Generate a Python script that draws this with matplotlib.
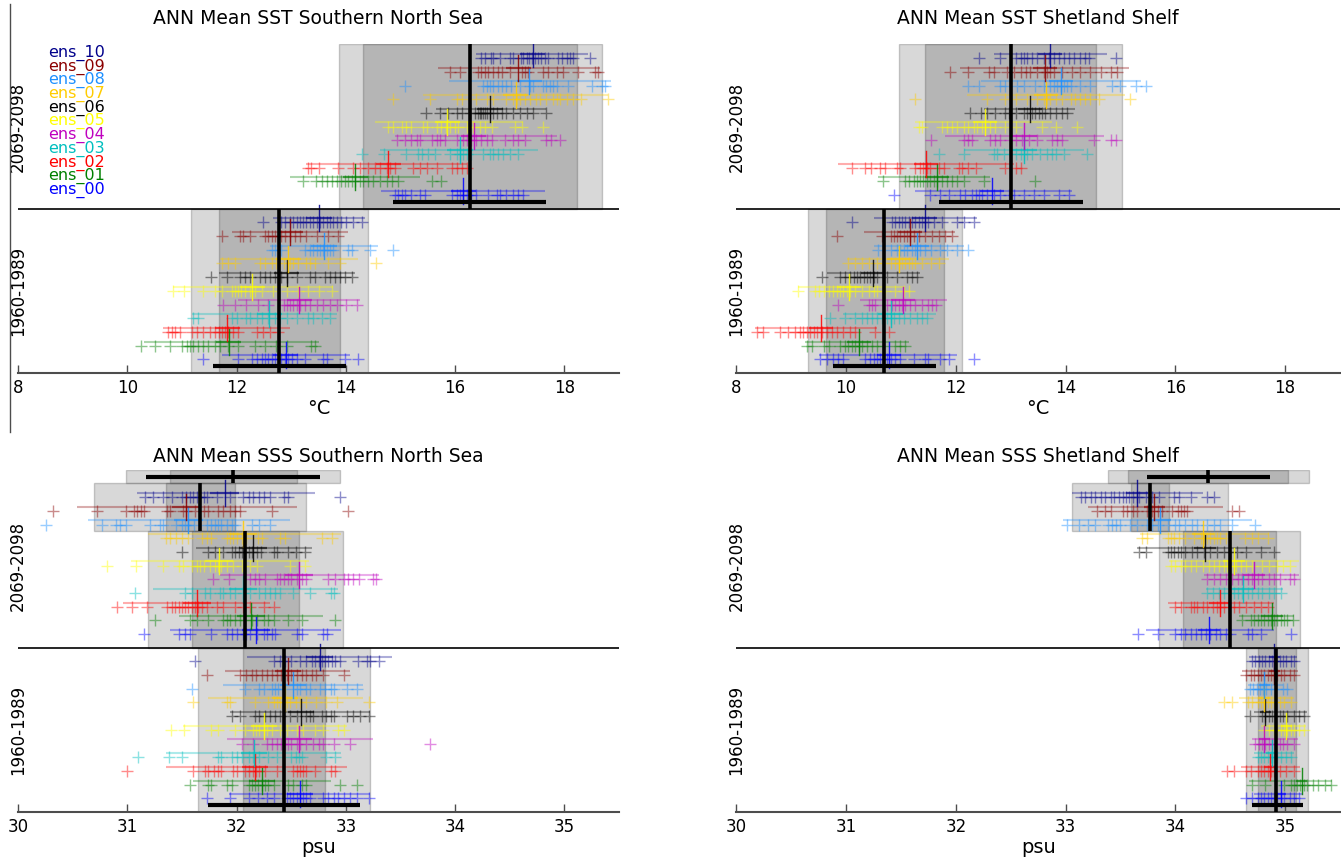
import matplotlib
matplotlib.use("Agg")
import matplotlib.pyplot as plt
from matplotlib.patches import Rectangle
from matplotlib.lines import Line2D
import matplotlib.transforms as mtransforms

# ---------------------------------------------------------------- data
MEMBERS = ["ens_00", "ens_01", "ens_02", "ens_03", "ens_04", "ens_05",
           "ens_06", "ens_07", "ens_08", "ens_09", "ens_10"]
MEMBER_COLORS = ["#0000ff", "#008000", "#ff0000", "#00bfbf", "#bf00bf", "#ffff00",
                 "#000000", "#ffcc00", "#1e90ff", "#8b0000", "#00008b"]
PERIODS = ["1960-1989", "2069-2098"]
TITLES = ["ANN Mean SST Southern North Sea", "ANN Mean SST Shetland Shelf",
          "ANN Mean SSS Southern North Sea", "ANN Mean SSS Shetland Shelf"]
SST_TICKS = [8, 10, 12, 14, 16, 18]
SSS_TICKS = [30, 31, 32, 33, 34, 35]

# ---- SST Southern North Sea, 1960-1989 (annual values per member)
SST_SNS_HIST = [
    [11.39, 12.03, 12.28, 12.37, 12.46, 12.52, 12.58, 12.64, 12.70, 12.76, 12.82, 12.89, 12.95, 13.01, 13.10, 13.25, 13.59, 13.65, 13.98, 14.23],
    [10.25, 10.51, 10.78, 11.00, 11.09, 11.15, 11.21, 11.30, 11.39, 11.48, 11.61, 11.70, 11.85, 12.03, 12.34, 12.52, 12.73, 12.92, 13.37, 13.43],
    [10.75, 10.81, 10.87, 10.96, 11.18, 11.27, 11.39, 11.51, 11.61, 11.67, 11.73, 11.79, 11.85, 11.94, 12.03, 12.37, 12.49, 12.61, 12.76],
    [11.21, 11.30, 11.91, 12.00, 12.18, 12.25, 12.37, 12.46, 12.58, 12.70, 12.79, 12.92, 13.10, 13.31, 13.40, 13.56, 13.71],
    [11.76, 11.97, 12.18, 12.40, 12.58, 12.86, 12.92, 12.98, 13.04, 13.10, 13.16, 13.25, 13.34, 13.47, 13.59, 13.71, 13.83, 14.01, 14.20],
    [10.84, 11.03, 11.39, 11.61, 11.73, 11.91, 11.97, 12.03, 12.09, 12.15, 12.25, 12.34, 12.46, 12.67, 12.92, 13.13, 13.31, 13.50, 13.74],
    [11.54, 11.82, 12.06, 12.15, 12.25, 12.43, 12.52, 12.61, 12.70, 12.76, 12.82, 12.92, 13.10, 13.34, 13.43, 13.62, 13.71, 13.80, 13.89, 13.98, 14.11],
    [11.73, 11.85, 11.97, 12.43, 12.52, 12.64, 12.73, 12.86, 12.98, 13.04, 13.13, 13.28, 13.34, 13.43, 13.68, 13.89, 14.56],
    [12.64, 12.70, 12.82, 13.25, 13.34, 13.40, 13.47, 13.53, 13.59, 13.65, 13.71, 13.77, 14.04, 14.11, 14.44, 14.87],
    [11.73, 12.06, 12.12, 12.25, 12.52, 12.58, 12.64, 12.70, 12.76, 12.82, 12.89, 12.98, 13.07, 13.16, 13.28, 13.47, 13.68, 13.86],
    [12.49, 12.82, 12.89, 12.98, 13.04, 13.10, 13.16, 13.22, 13.28, 13.34, 13.40, 13.47, 13.53, 13.59, 13.65, 13.71, 13.77, 13.83, 13.92, 14.01, 14.14, 14.29],
]
SST_SNS_HIST_MEAN = [12.90, 11.86, 11.83, 12.60, 13.15, 12.29, 12.92, 12.95, 13.60, 12.98, 13.51]
SST_SNS_HIST_RANGE = [(11.73, 14.07), (10.30, 13.50), (10.66, 12.98), (11.18, 13.83), (12.03, 14.26), (10.84, 13.77),
                      (11.67, 14.17), (11.70, 14.23), (12.61, 14.59), (11.91, 14.04), (12.67, 14.35)]

# ---- SST Southern North Sea, 2069-2098
SST_SNS_FUT = [
    [14.90, 14.96, 15.02, 15.08, 15.20, 15.36, 15.45, 15.94, 16.03, 16.09, 16.15, 16.21, 16.30, 16.39, 16.61, 16.76, 16.82, 16.94, 17.06, 17.16, 17.25],
    [13.22, 13.46, 13.56, 13.65, 13.74, 13.83, 13.92, 13.98, 14.04, 14.11, 14.17, 14.26, 14.32, 14.41, 14.50, 14.62, 14.75, 14.84, 14.96, 15.57, 15.75],
    [13.31, 13.37, 13.50, 13.86, 14.14, 14.26, 14.41, 14.53, 14.62, 14.75, 14.81, 14.90, 15.23, 15.36, 15.48, 15.66, 15.94, 16.03, 16.12, 16.21],
    [14.29, 14.69, 15.11, 15.33, 15.39, 15.51, 15.63, 15.90, 16.03, 16.09, 16.15, 16.21, 16.30, 16.51, 16.64, 16.70, 16.79, 16.88, 17.00, 17.16],
    [14.93, 15.08, 15.20, 15.30, 15.36, 15.57, 15.66, 15.72, 15.81, 16.03, 16.15, 16.21, 16.30, 16.39, 16.48, 16.58, 16.67, 16.91, 17.06, 17.16, 17.28, 17.67, 17.76, 17.92],
    [14.78, 14.87, 15.02, 15.11, 15.20, 15.42, 15.48, 15.66, 15.75, 15.84, 15.90, 16.00, 16.06, 16.21, 16.33, 16.45, 16.55, 16.67, 17.09, 17.22, 17.61],
    [15.47, 15.73, 15.87, 16.03, 16.12, 16.27, 16.36, 16.42, 16.45, 16.48, 16.51, 16.55, 16.58, 16.64, 16.70, 16.76, 16.85, 16.94, 17.06, 17.19, 17.31, 17.43, 17.67],
    [14.87, 15.54, 16.03, 16.12, 16.39, 16.58, 16.70, 16.94, 17.06, 17.13, 17.19, 17.28, 17.37, 17.49, 17.55, 17.67, 17.80, 17.86, 17.92, 18.04, 18.16, 18.31, 18.80],
    [15.08, 16.51, 16.58, 16.64, 16.70, 16.79, 16.85, 16.94, 17.03, 17.19, 17.37, 17.43, 17.61, 17.67, 17.73, 17.79, 17.86, 18.07, 18.50, 18.68, 18.74],
    [15.90, 16.09, 16.42, 16.48, 16.55, 16.61, 16.70, 16.79, 16.85, 17.00, 17.22, 17.28, 17.34, 17.61, 17.70, 17.86, 17.98, 18.25, 18.56, 18.62],
    [16.48, 16.55, 16.65, 16.70, 16.82, 17.00, 17.06, 17.20, 17.25, 17.31, 17.36, 17.40, 17.46, 17.52, 17.58, 17.64, 17.70, 17.89, 17.95, 18.04, 18.10, 18.16, 18.47],
]
SST_SNS_FUT_MEAN = [16.15, 14.17, 14.78, 16.09, 16.34, 15.86, 16.64, 17.11, 17.36, 17.16, 17.42]
SST_SNS_FUT_RANGE = [(14.65, 17.64), (12.98, 15.36), (13.27, 16.21), (14.62, 17.52), (14.90, 17.86), (14.53, 17.25),
                     (15.65, 17.67), (15.42, 18.80), (15.89, 18.86), (15.69, 18.65), (16.39, 18.44)]

# ---- SST Shetland Shelf, 1960-1989
SST_SS_HIST = [
    [9.53, 9.65, 9.77, 9.86, 9.95, 10.35, 10.44, 10.50, 10.56, 10.62, 10.68, 10.74, 10.81, 10.90, 10.99, 11.23, 11.44, 11.50, 11.72, 11.87, 12.33],
    [9.28, 9.38, 9.59, 9.68, 9.89, 9.98, 10.04, 10.11, 10.17, 10.23, 10.29, 10.38, 10.47, 10.56, 10.68, 10.90, 10.99, 11.08],
    [8.37, 8.49, 8.80, 8.95, 9.07, 9.16, 9.22, 9.28, 9.34, 9.41, 9.47, 9.56, 9.65, 9.74, 9.83, 9.95, 10.07, 10.17, 10.53, 10.78],
    [9.71, 9.98, 10.17, 10.29, 10.38, 10.47, 10.56, 10.65, 10.74, 10.81, 10.87, 10.96, 11.05, 11.17, 11.29, 11.38, 11.47],
    [9.86, 10.41, 10.47, 10.53, 10.74, 10.84, 10.90, 10.96, 11.02, 11.08, 11.17, 11.26, 11.38, 11.50, 11.57, 11.63],
    [9.13, 9.44, 9.50, 9.59, 9.68, 9.77, 9.83, 9.89, 9.95, 10.01, 10.07, 10.17, 10.29, 10.41, 10.50, 10.56, 10.71, 10.90, 11.05, 11.14],
    [9.56, 9.89, 9.98, 10.07, 10.14, 10.20, 10.26, 10.32, 10.38, 10.44, 10.50, 10.56, 10.74, 10.93, 11.11, 11.20, 11.29],
    [10.04, 10.17, 10.29, 10.41, 10.56, 10.68, 10.81, 10.90, 10.96, 11.02, 11.08, 11.14, 11.20, 11.26, 11.38, 11.54, 11.69],
    [10.59, 10.81, 10.93, 10.99, 11.05, 11.11, 11.20, 11.26, 11.35, 11.44, 11.54, 11.72, 11.84, 12.02, 12.23],
    [9.83, 10.65, 10.81, 10.87, 10.93, 10.99, 11.05, 11.11, 11.17, 11.23, 11.32, 11.44, 11.56, 11.69, 11.81, 11.93],
    [10.10, 10.84, 10.90, 10.96, 11.02, 11.08, 11.14, 11.20, 11.26, 11.32, 11.38, 11.44, 11.50, 11.60, 11.75, 12.02, 12.14, 12.33],
]
SST_SS_HIST_MEAN = [10.79, 10.23, 9.54, 10.81, 11.04, 10.06, 10.49, 10.96, 11.29, 11.17, 11.43]
SST_SS_HIST_RANGE = [(9.50, 12.02), (9.25, 11.14), (8.34, 10.56), (9.95, 11.63), (10.26, 11.84), (9.13, 11.05),
                     (9.65, 11.35), (10.01, 11.87), (10.50, 12.14), (10.32, 11.99), (10.50, 12.39)]

# ---- SST Shetland Shelf, 2069-2098
SST_SS_FUT = [
    [10.87, 11.53, 11.72, 11.87, 12.08, 12.17, 12.29, 12.36, 12.42, 12.48, 12.57, 12.69, 12.81, 12.96, 13.06, 13.24, 13.42, 13.60, 13.88, 14.06],
    [10.68, 11.08, 11.14, 11.23, 11.29, 11.35, 11.41, 11.47, 11.53, 11.60, 11.66, 11.75, 11.84, 11.93, 12.02, 12.14, 12.51, 13.45],
    [10.10, 10.35, 10.45, 10.62, 10.71, 10.93, 10.99, 11.26, 11.35, 11.41, 11.47, 11.53, 11.69, 11.78, 12.05, 12.11, 12.23, 12.36, 12.90, 13.09, 13.18],
    [11.69, 12.14, 12.69, 12.75, 12.87, 12.99, 13.09, 13.18, 13.24, 13.30, 13.39, 13.54, 13.66, 13.76, 13.82, 13.97, 14.39],
    [11.55, 12.14, 12.23, 12.29, 12.63, 12.72, 12.81, 12.99, 13.09, 13.21, 13.33, 13.48, 13.76, 13.85, 13.94, 14.51, 14.82, 14.91],
    [11.32, 11.38, 11.75, 11.84, 11.93, 12.02, 12.14, 12.23, 12.33, 12.39, 12.48, 12.54, 12.63, 12.72, 12.90, 13.09, 13.57, 13.82, 14.21],
    [12.26, 12.45, 12.57, 12.72, 12.90, 12.96, 13.09, 13.24, 13.30, 13.39, 13.45, 13.51, 13.57, 13.63, 13.72, 13.82, 13.94, 14.03],
    [11.26, 12.57, 12.90, 13.09, 13.30, 13.48, 13.60, 13.66, 13.72, 13.82, 13.94, 14.09, 14.18, 14.27, 14.36, 14.45, 14.61, 15.18],
    [12.22, 12.42, 12.81, 12.90, 13.12, 13.24, 13.45, 13.60, 13.72, 13.79, 13.85, 13.91, 13.97, 14.03, 14.09, 14.27, 14.45, 14.85, 15.00, 15.28, 15.46],
    [11.90, 12.23, 12.60, 12.69, 12.93, 13.06, 13.18, 13.27, 13.36, 13.48, 13.60, 13.66, 13.72, 13.79, 13.94, 14.12, 14.27, 14.45, 14.64, 14.82, 14.94],
    [12.42, 12.81, 13.09, 13.18, 13.24, 13.30, 13.39, 13.48, 13.60, 13.69, 13.79, 13.88, 13.97, 14.06, 14.15, 14.27, 14.36, 14.42, 14.91],
]
SST_SS_FUT_MEAN = [12.66, 11.66, 11.46, 13.25, 13.25, 12.53, 13.35, 13.64, 13.91, 13.62, 13.71]
SST_SS_FUT_RANGE = [(11.26, 14.12), (10.59, 12.63), (9.85, 13.06), (12.14, 14.33), (11.81, 14.70), (11.26, 13.76),
                    (12.51, 14.18), (12.20, 15.09), (12.45, 15.37), (12.08, 15.15), (12.69, 14.76)]

# ---- SSS Southern North Sea, 1960-1989
SSS_SNS_HIST = [
    [31.73, 31.94, 32.11, 32.20, 32.28, 32.34, 32.46, 32.49, 32.52, 32.55, 32.58, 32.61, 32.64, 32.67, 32.79, 32.84, 32.89, 32.93, 32.98, 33.04, 33.10, 33.21],
    [31.57, 31.74, 31.77, 31.91, 31.96, 32.11, 32.14, 32.17, 32.20, 32.23, 32.26, 32.29, 32.34, 32.47, 32.52, 32.60, 32.64, 32.95, 33.10],
    [31.00, 31.60, 31.71, 31.74, 31.79, 31.83, 31.86, 31.97, 32.00, 32.08, 32.11, 32.15, 32.18, 32.21, 32.26, 32.37, 32.52, 32.55, 32.58, 32.61, 32.64, 32.72, 32.86, 32.90],
    [31.10, 31.38, 31.50, 31.83, 31.86, 31.96, 32.00, 32.05, 32.11, 32.15, 32.21, 32.29, 32.37, 32.50, 32.54, 32.57, 32.60, 32.82, 32.90],
    [32.05, 32.15, 32.28, 32.32, 32.37, 32.41, 32.44, 32.47, 32.50, 32.55, 32.58, 32.64, 32.70, 32.75, 32.79, 32.89, 33.04, 33.77],
    [31.40, 31.52, 31.77, 31.83, 31.99, 32.08, 32.15, 32.18, 32.21, 32.25, 32.28, 32.32, 32.40, 32.46, 32.55, 32.61, 32.72, 32.79, 32.93, 32.98],
    [31.96, 32.03, 32.17, 32.21, 32.26, 32.31, 32.35, 32.40, 32.49, 32.55, 32.64, 32.67, 32.70, 32.78, 32.82, 32.86, 32.89, 33.01, 33.07, 33.13, 33.21],
    [31.60, 31.91, 31.94, 32.17, 32.29, 32.34, 32.37, 32.40, 32.43, 32.46, 32.49, 32.54, 32.58, 32.64, 32.73, 32.82, 32.92, 33.21],
    [31.59, 32.08, 32.21, 32.25, 32.32, 32.35, 32.38, 32.44, 32.55, 32.58, 32.64, 32.67, 32.76, 32.81, 32.86, 32.89, 33.01, 33.10],
    [31.73, 32.03, 32.09, 32.14, 32.18, 32.23, 32.28, 32.32, 32.37, 32.41, 32.46, 32.50, 32.55, 32.60, 32.64, 32.69, 32.73, 32.79, 32.98],
    [31.62, 32.34, 32.40, 32.44, 32.50, 32.58, 32.64, 32.69, 32.72, 32.75, 32.78, 32.81, 32.84, 32.87, 32.90, 32.95, 33.11, 33.19, 33.22, 33.30],
]
SSS_SNS_HIST_MEAN = [32.58, 32.23, 32.17, 32.16, 32.57, 32.25, 32.59, 32.44, 32.52, 32.47, 32.76]
SSS_SNS_HIST_RANGE = [(31.93, 33.22), (31.60, 32.86), (31.35, 33.01), (31.35, 32.96), (31.91, 33.25), (31.51, 33.01),
                      (31.94, 33.22), (31.74, 33.16), (31.88, 33.16), (31.89, 33.04), (32.10, 33.42)]

# ---- SSS Southern North Sea, 2069-2098
SSS_SNS_FUT = [
    [31.15, 31.47, 31.53, 31.57, 31.77, 31.91, 31.96, 32.00, 32.06, 32.09, 32.12, 32.19, 32.25, 32.28, 32.32, 32.35, 32.55, 32.60, 32.79, 32.83],
    [31.25, 31.57, 31.64, 31.74, 31.88, 31.91, 31.94, 31.99, 32.03, 32.08, 32.14, 32.19, 32.25, 32.29, 32.34, 32.47, 32.60, 32.90],
    [30.91, 31.04, 31.18, 31.36, 31.41, 31.44, 31.47, 31.50, 31.53, 31.56, 31.59, 31.62, 31.65, 31.68, 31.73, 31.82, 31.88, 31.99, 32.06, 32.12, 32.25, 32.34],
    [31.07, 31.53, 31.59, 31.71, 31.76, 31.85, 31.88, 31.94, 31.99, 32.06, 32.12, 32.21, 32.26, 32.31, 32.35, 32.40, 32.52, 32.67, 32.86, 32.89],
    [31.78, 31.93, 32.12, 32.17, 32.21, 32.26, 32.37, 32.40, 32.43, 32.47, 32.50, 32.55, 32.60, 32.64, 32.84, 32.90, 32.98, 33.02, 33.07, 33.12, 33.25, 33.28],
    [30.81, 31.08, 31.33, 31.47, 31.51, 31.59, 31.64, 31.67, 31.70, 31.76, 31.80, 31.83, 31.86, 31.91, 31.97, 32.05, 32.12, 32.19, 32.49, 32.63],
    [31.50, 31.74, 31.80, 31.88, 31.96, 31.99, 32.02, 32.05, 32.08, 32.11, 32.14, 32.19, 32.22, 32.34, 32.37, 32.47, 32.54, 32.63],
    [31.35, 31.39, 31.45, 31.50, 31.56, 31.68, 31.73, 31.77, 31.91, 31.94, 31.97, 32.00, 32.05, 32.09, 32.20, 32.23, 32.40, 32.44, 32.78, 32.87],
    [30.26, 30.77, 30.90, 30.93, 30.99, 31.21, 31.30, 31.33, 31.45, 31.50, 31.53, 31.56, 31.61, 31.73, 31.77, 31.80, 31.83, 31.86, 31.91, 31.96, 31.99, 32.14, 32.21, 32.31],
    [30.32, 30.72, 30.99, 31.06, 31.09, 31.13, 31.15, 31.36, 31.39, 31.51, 31.54, 31.62, 31.70, 31.74, 31.83, 31.88, 31.94, 31.99, 32.03, 32.32, 33.02],
    [31.16, 31.24, 31.33, 31.41, 31.50, 31.54, 31.57, 31.60, 31.64, 31.67, 31.70, 31.73, 31.82, 31.94, 32.06, 32.11, 32.15, 32.21, 32.25, 32.31, 32.43, 32.47, 32.95],
]
SSS_SNS_FUT_MEAN = [32.18, 32.13, 31.64, 32.06, 32.57, 31.84, 32.15, 32.06, 31.56, 31.54, 31.89]
SSS_SNS_FUT_RANGE = [(31.39, 32.96), (31.47, 32.79), (30.96, 32.31), (31.24, 32.93), (31.85, 33.30), (31.03, 32.66),
                     (31.63, 32.69), (31.19, 32.96), (30.64, 32.49), (30.54, 32.55), (31.09, 32.72)]

# ---- SSS Shetland Shelf, 1960-1989
SSS_SS_HIST = [
    [34.64, 34.70, 34.75, 34.78, 34.81, 34.84, 34.87, 34.90, 34.93, 34.96, 34.99, 35.04, 35.08, 35.13],
    [34.70, 34.82, 34.99, 35.05, 35.08, 35.11, 35.14, 35.17, 35.20, 35.25, 35.30, 35.36, 35.42],
    [34.47, 34.53, 34.64, 34.69, 34.75, 34.78, 34.81, 34.84, 34.87, 34.90, 34.95, 35.01, 35.08],
    [34.75, 34.78, 34.81, 34.84, 34.87, 34.90, 34.93, 34.96, 35.01, 35.05],
    [34.73, 34.76, 34.79, 34.82, 34.85, 34.88, 34.91, 34.95, 34.98, 35.02, 35.08],
    [34.81, 34.85, 34.90, 34.93, 34.96, 34.99, 35.02, 35.05, 35.08, 35.13, 35.17],
    [34.68, 34.79, 34.82, 34.85, 34.88, 34.91, 34.95, 34.98, 35.02, 35.08, 35.13, 35.17],
    [34.44, 34.52, 34.66, 34.70, 34.75, 34.78, 34.81, 34.84, 34.87, 34.90, 34.95, 34.99, 35.05],
    [34.68, 34.71, 34.74, 34.77, 34.80, 34.83, 34.87, 34.92, 34.98, 35.02],
    [34.64, 34.69, 34.72, 34.75, 34.78, 34.81, 34.84, 34.87, 34.90, 34.93, 34.96, 34.99, 35.04, 35.08],
    [34.70, 34.73, 34.76, 34.79, 34.82, 34.85, 34.88, 34.91, 34.95, 34.98, 35.01, 35.05, 35.08],
]
SSS_SS_HIST_MEAN = [34.96, 35.15, 34.86, 34.88, 34.81, 35.01, 34.82, 34.81, 34.81, 34.90, 34.90]
SSS_SS_HIST_RANGE = [(34.72, 35.16), (34.67, 35.43), (34.60, 35.14), (34.72, 35.08), (34.70, 35.12), (34.78, 35.19),
                     (34.72, 35.20), (34.58, 35.08), (34.66, 34.98), (34.61, 35.12), (34.67, 35.11)]

# ---- SSS Shetland Shelf, 2069-2098
SSS_SS_FUT = [
    [33.66, 33.84, 34.00, 34.05, 34.09, 34.14, 34.19, 34.23, 34.28, 34.32, 34.37, 34.41, 34.46, 34.50, 34.66, 34.70, 34.78, 35.05],
    [34.61, 34.69, 34.72, 34.75, 34.78, 34.81, 34.84, 34.87, 34.90, 34.93, 34.96, 34.99, 35.02, 35.07],
    [34.00, 34.05, 34.14, 34.17, 34.20, 34.25, 34.29, 34.34, 34.38, 34.41, 34.44, 34.49, 34.53, 34.58, 34.64, 34.72, 34.78, 34.84],
    [34.29, 34.34, 34.40, 34.44, 34.49, 34.53, 34.57, 34.61, 34.66, 34.70, 34.75, 34.79, 34.85, 34.90, 34.96],
    [34.29, 34.35, 34.41, 34.46, 34.52, 34.57, 34.61, 34.66, 34.70, 34.75, 34.79, 34.85, 34.90, 34.95, 35.04, 35.08],
    [33.96, 34.00, 34.05, 34.09, 34.14, 34.19, 34.25, 34.31, 34.35, 34.40, 34.44, 34.47, 34.50, 34.55, 34.60, 34.64, 34.70, 34.79, 34.85, 34.93, 34.98, 35.04],
    [33.67, 33.73, 33.93, 33.96, 33.99, 34.02, 34.05, 34.09, 34.15, 34.20, 34.26, 34.32, 34.38, 34.44, 34.50, 34.56, 34.64, 34.78, 34.90],
    [33.70, 33.74, 33.93, 33.96, 33.99, 34.03, 34.09, 34.17, 34.23, 34.26, 34.29, 34.32, 34.35, 34.38, 34.41, 34.46, 34.63, 34.70, 34.75, 34.84],
    [33.01, 33.12, 33.20, 33.27, 33.39, 33.42, 33.46, 33.50, 33.59, 33.65, 33.74, 33.79, 33.84, 33.93, 34.00, 34.03, 34.09, 34.15, 34.20, 34.29, 34.35, 34.41, 34.52, 34.73],
    [33.29, 33.36, 33.41, 33.52, 33.56, 33.61, 33.65, 33.74, 33.79, 33.84, 33.88, 33.97, 34.02, 34.05, 34.08, 34.11, 34.52, 34.58],
    [33.14, 33.18, 33.23, 33.27, 33.32, 33.36, 33.41, 33.44, 33.49, 33.52, 33.55, 33.58, 33.61, 33.65, 33.67, 33.73, 33.79, 33.85, 33.99, 34.03, 34.14, 34.29, 34.35],
]
SSS_SS_FUT_MEAN = [34.31, 34.88, 34.41, 34.62, 34.72, 34.53, 34.27, 34.25, 33.86, 33.81, 33.65]
SSS_SS_FUT_RANGE = [(33.73, 34.90), (34.58, 35.08), (33.93, 34.90), (34.28, 34.98), (34.26, 35.13), (33.94, 35.13),
                    (33.65, 34.87), (33.68, 34.85), (32.98, 34.70), (33.20, 34.43), (33.06, 34.25)]

# ---- multi-member summaries (outer range, inner range, mean, bar)
SST_SNS_HIST_SUM = dict(light=(11.16, 14.41), dark=(11.68, 13.89), mean=12.78, bar=(11.57, 14.00))
SST_SNS_FUT_SUM = dict(light=(13.88, 18.68), dark=(14.32, 18.24), mean=16.28, bar=(14.87, 17.67))
SST_SS_HIST_SUM = dict(light=(9.30, 12.12), dark=(9.63, 11.78), mean=10.70, bar=(9.77, 11.64))
SST_SS_FUT_SUM = dict(light=(10.97, 15.03), dark=(11.44, 14.56), mean=13.00, bar=(11.69, 14.31))
SSS_SNS_HIST_SUM = dict(light=(31.65, 33.22), dark=(32.06, 32.81), mean=32.43, bar=(31.74, 33.13))
SSS_SNS_FUT_LOW = dict(light=(31.19, 32.97), dark=(31.59, 32.57), mean=32.08)    # ens_00..ens_07
SSS_SNS_FUT_HIGH = dict(light=(30.70, 32.64), dark=(31.35, 31.99), mean=31.67)   # ens_08..ens_10
SSS_SNS_FUT_ALL = dict(light=(30.99, 32.95), dark=(31.39, 32.55), mean=31.97, bar=(31.17, 32.76))
SSS_SS_HIST_SUM = dict(light=(34.64, 35.21), dark=(34.75, 35.10), mean=34.92, bar=(34.70, 35.16))
SSS_SS_FUT_LOW = dict(light=(33.85, 35.14), dark=(34.07, 34.92), mean=34.50)
SSS_SS_FUT_HIGH = dict(light=(33.06, 34.48), dark=(33.60, 33.94), mean=33.77)
SSS_SS_FUT_ALL = dict(light=(33.39, 35.22), dark=(33.57, 35.03), mean=34.30, bar=(33.74, 34.86))

# half width of the short thick segment around each member mean
CI_HALF = {"SST_SNS": (0.23, 0.23), "SST_SS": (0.22, 0.22),
           "SSS_SNS": (0.12, 0.13), "SSS_SS": (0.05, 0.10)}

# ---------------------------------------------------------------- figure
W, H = 1341, 858
fig = plt.figure(figsize=(W / 100, H / 100), dpi=100)
ROW = 13.69  # px per data unit (vertical)


def px_axes(left, right, top, bottom):
    return fig.add_axes([left / W, 1 - bottom / H, (right - left) / W, (bottom - top) / H])


def box(ax, y0, y1, s):
    lo, hi = s["light"]
    ax.add_patch(Rectangle((lo, y0), hi - lo, y1 - y0, fc="0.5", ec="0.35",
                           lw=1, alpha=0.3, zorder=1))
    lo, hi = s["dark"]
    ax.add_patch(Rectangle((lo, y0), hi - lo, y1 - y0, fc="0.4", ec="0.3",
                           lw=1, alpha=0.3, zorder=1.1))
    ax.plot([s["mean"]] * 2, [y0, y1], color="k", lw=2.6, zorder=6,
            solid_capstyle="butt")


def members(ax, base, vals, means, ranges, half):
    for i in range(len(MEMBERS)):
        c = MEMBER_COLORS[i]
        row = base + i + 1
        v = vals[i]
        ax.plot(v, [row] * len(v), "+", color=c, ms=8.5, mew=1.0, alpha=0.45,
                zorder=3, linestyle="none")
        ly = row + 0.3
        ax.plot(ranges[i], [ly, ly], color=c, lw=1.5, alpha=0.32, zorder=2,
                solid_capstyle="butt")
        m = means[i]
        ax.plot([m - half, m + half], [ly, ly], color=c, lw=1.6, alpha=0.6,
                zorder=4, solid_capstyle="butt")
        ax.plot([m, m], [ly - 0.95, ly + 0.95], color=c, lw=1.0, alpha=0.85,
                zorder=4)


def style(ax, xlim, ticks, ymax, xlabel, period_centers):
    ax.set_xlim(*xlim)
    ax.set_ylim(0, ymax)
    for sp in ("left", "right", "top"):
        ax.spines[sp].set_visible(False)
    ax.spines["bottom"].set_color("0.3")
    ax.spines["bottom"].set_linewidth(1.5)
    ax.set_yticks([])
    ax.set_xticks(ticks)
    ax.tick_params(axis="x", direction="in", length=6, width=1, color="0.3",
                   labelsize=12, pad=4)
    ax.set_xlabel(xlabel, fontsize=14, labelpad=2)
    ax.axhline(12, color="k", lw=1.2, zorder=7)
    trans = mtransforms.blended_transform_factory(ax.transAxes, ax.transData)
    for lab, yc in zip(PERIODS, period_centers):
        ax.text(0.0, yc, lab, rotation=90, ha="center", va="center",
                fontsize=12, transform=trans, zorder=8)


top_t, top_b = 373 - 24 * ROW, 373
bot_t, bot_b = 812 - 25 * ROW, 812
ax_tl = px_axes(18, 619, top_t, top_b)
ax_tr = px_axes(736.3, 1340, top_t, top_b)
ax_bl = px_axes(18, 619, bot_t, bot_b)
ax_br = px_axes(736.3, 1340, bot_t, bot_b)

sst_panels = [
    (ax_tl, SST_SNS_HIST, SST_SNS_HIST_MEAN, SST_SNS_HIST_RANGE, SST_SNS_HIST_SUM,
     SST_SNS_FUT, SST_SNS_FUT_MEAN, SST_SNS_FUT_RANGE, SST_SNS_FUT_SUM, CI_HALF["SST_SNS"]),
    (ax_tr, SST_SS_HIST, SST_SS_HIST_MEAN, SST_SS_HIST_RANGE, SST_SS_HIST_SUM,
     SST_SS_FUT, SST_SS_FUT_MEAN, SST_SS_FUT_RANGE, SST_SS_FUT_SUM, CI_HALF["SST_SS"]),
]
for ax, hv, hm, hr, hs, fv, fm, fr, fs, ci in sst_panels:
    box(ax, 0, 12, hs)
    ax.plot(hs["bar"], [0.5, 0.5], color="k", lw=3, zorder=6, solid_capstyle="butt")
    members(ax, 0, hv, hm, hr, ci[0])
    box(ax, 12, 24, fs)
    ax.plot(fs["bar"], [12.5, 12.5], color="k", lw=3, zorder=6, solid_capstyle="butt")
    members(ax, 12, fv, fm, fr, ci[1])
    style(ax, (8, 19), SST_TICKS, 24, "°C", [6, 18])

sss_panels = [
    (ax_bl, SSS_SNS_HIST, SSS_SNS_HIST_MEAN, SSS_SNS_HIST_RANGE, SSS_SNS_HIST_SUM,
     SSS_SNS_FUT, SSS_SNS_FUT_MEAN, SSS_SNS_FUT_RANGE,
     SSS_SNS_FUT_LOW, SSS_SNS_FUT_HIGH, SSS_SNS_FUT_ALL, CI_HALF["SSS_SNS"]),
    (ax_br, SSS_SS_HIST, SSS_SS_HIST_MEAN, SSS_SS_HIST_RANGE, SSS_SS_HIST_SUM,
     SSS_SS_FUT, SSS_SS_FUT_MEAN, SSS_SS_FUT_RANGE,
     SSS_SS_FUT_LOW, SSS_SS_FUT_HIGH, SSS_SS_FUT_ALL, CI_HALF["SSS_SS"]),
]
for ax, hv, hm, hr, hs, fv, fm, fr, flo, fhi, fall, ci in sss_panels:
    box(ax, 0, 12, hs)
    ax.plot(hs["bar"], [0.5, 0.5], color="k", lw=3, zorder=6, solid_capstyle="butt")
    members(ax, 0, hv, hm, hr, ci[0])
    box(ax, 12, 20.5, flo)
    box(ax, 20.5, 24, fhi)
    box(ax, 24, 25, fall)
    ax.plot(fall["bar"], [24.5, 24.5], color="k", lw=3, zorder=6, solid_capstyle="butt")
    members(ax, 12, fv, fm, fr, ci[1])
    style(ax, (30, 35.5), SSS_TICKS, 25, "psu", [6, 18])

# legend (coloured member names) in the first panel
for i, name in enumerate(MEMBERS):
    ax_tl.text(8.55, 12 + i + 1 + 0.38, name, color=MEMBER_COLORS[i],
               fontsize=11.5, ha="left", va="center", zorder=9)

# titles
for (cx, cy), t in zip([(318.5, 18), (1038, 18), (318.5, 456), (1038, 456)], TITLES):
    fig.text(cx / W, 1 - cy / H, t, ha="center", va="center", fontsize=13.5)

# outer vertical rule at the left of the first panel
fig.add_artist(Line2D([10 / W, 10 / W], [1 - 4 / H, 1 - 432 / H], color="0.3", lw=1))

fig.savefig("out.png", dpi=100)
